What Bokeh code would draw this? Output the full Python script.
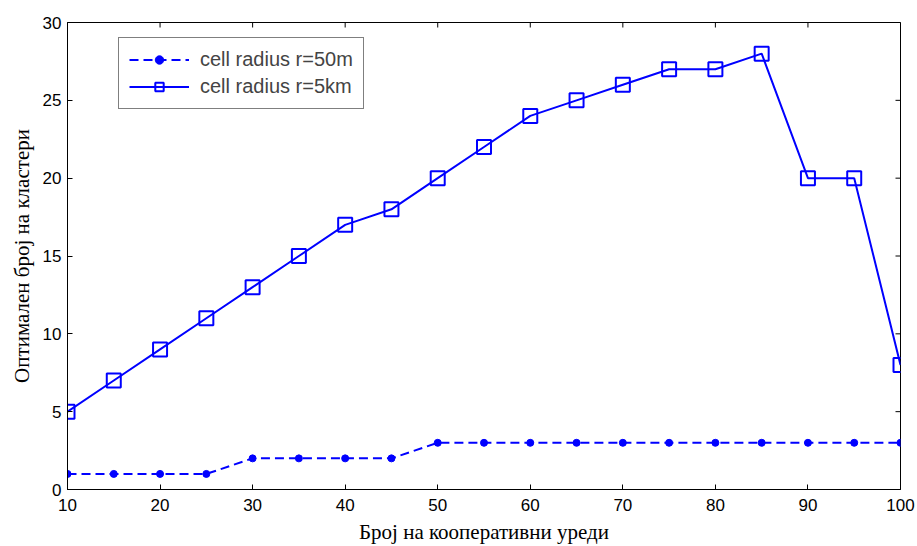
import math
from bokeh.plotting import figure
from bokeh.models import Range1d, FixedTicker, Legend, LegendItem
from bokeh.embed import file_html
from bokeh.resources import INLINE

x_vals = [10, 15, 20, 25, 30, 35, 40, 45, 50, 55, 60, 65, 70, 75, 80, 85, 90, 95, 100]
r50m = [1, 1, 1, 1, 2, 2, 2, 2, 3, 3, 3, 3, 3, 3, 3, 3, 3, 3, 3]
r5km = [5, 7, 9, 11, 13, 15, 17, 18, 20, 22, 24, 25, 26, 27, 27, 28, 20, 20, 8]
x_ticks = [10, 20, 30, 40, 50, 60, 70, 80, 90, 100]
y_ticks = [0, 5, 10, 15, 20, 25, 30]
x_label = "Број на кооперативни уреди"
y_label = "Оптимален број на кластери"
labels = ["cell radius r=50m", "cell radius r=5km"]

BLUE = "#0000ff"
XMIN, XMAX, YMIN, YMAX = x_ticks[0], x_ticks[-1], y_ticks[0], y_ticks[-1]
p = figure(width=917, height=546, output_backend="svg", toolbar_location=None,
           x_range=Range1d(XMIN, XMAX), y_range=Range1d(YMIN, YMAX),
           min_border_left=67, min_border_right=17, min_border_top=22, min_border_bottom=57)
p.outline_line_color = "black"
p.outline_line_width = 1
p.grid.visible = False

for ax in [p.xaxis[0], p.yaxis[0]]:
    ax.major_tick_in = 5
    ax.major_tick_out = 0
    ax.minor_tick_line_color = None
    ax.axis_line_color = "black"
    ax.major_label_text_font = "Liberation Sans"
    ax.major_label_text_font_size = "17px"
    ax.major_label_text_color = "black"
    ax.axis_label_text_font = "Liberation Serif"
    ax.axis_label_text_font_size = "21px"
    ax.axis_label_text_font_style = "normal"
    ax.axis_label_text_color = "black"
p.xaxis[0].ticker = FixedTicker(ticks=x_ticks)
p.yaxis[0].ticker = FixedTicker(ticks=y_ticks)
p.xaxis[0].axis_label = x_label
p.yaxis[0].axis_label = y_label
p.xaxis[0].major_label_standoff = 9
p.yaxis[0].major_label_standoff = 6
p.xaxis[0].axis_label_standoff = 6
p.yaxis[0].axis_label_standoff = 6

# inward ticks on the top and right edges (half outside is clipped by the frame)
p.scatter(x_ticks, [YMAX] * len(x_ticks), marker="dash", angle=math.pi / 2, size=10,
          line_color="black", line_width=1)
p.scatter([XMAX] * len(y_ticks), y_ticks, marker="dash", size=10,
          line_color="black", line_width=1)

l1 = p.line(x_vals, r50m, line_color=BLUE, line_width=2, line_dash="9 5")
s1 = p.scatter(x_vals, r50m, marker="circle", size=7, fill_color=BLUE, line_color=BLUE)
l2 = p.line(x_vals, r5km, line_color=BLUE, line_width=2)
s2 = p.scatter(x_vals, r5km, marker="square", size=14, fill_color=None, line_color=BLUE, line_width=2)

legend = Legend(items=[LegendItem(label=labels[0], renderers=[l1, s1]),
                       LegendItem(label=labels[1], renderers=[l2, s2])],
                location=(51, 380))
legend.border_line_color = "black"
legend.border_line_width = 1
legend.label_text_font = "Liberation Sans"
legend.label_text_font_size = "20px"
legend.glyph_width = 60
legend.glyph_height = 21
legend.label_height = 21
legend.label_standoff = 11
legend.spacing = 4
legend.padding = 10
legend.margin = 0
p.add_layout(legend, "center")

open("out.html", "w").write(file_html(p, INLINE))
